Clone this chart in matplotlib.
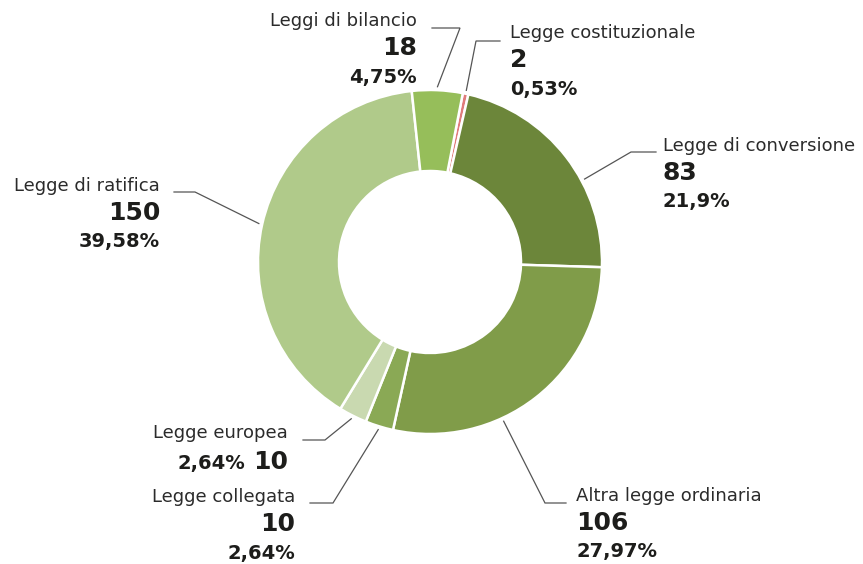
import numpy as np
import matplotlib.pyplot as plt

plt.rcParams['font.family'] = ['DejaVu Sans']

categorie = ["Legge costituzionale", "Legge di conversione", "Altra legge ordinaria",
             "Legge collegata", "Legge europea", "Legge di ratifica", "Leggi di bilancio"]
valori = [2, 83, 106, 10, 10, 150, 18]
percentuali = ["0,53%", "21,9%", "27,97%", "2,64%", "2,64%", "39,58%", "4,75%"]
colori = ["#e07b7b", "#6c863a", "#809c49", "#8aa955", "#c9d9b0", "#b0ca8a", "#96be5a"]

W, H = 863, 564
cx, cy = 430, H - 262
R = 172
spessore = 81

# posizione dei testi (x, y dall'alto), allineamento, gomito della linea, punto sulla fetta
etichette = {
    "Legge costituzionale": dict(x=510, y=33, ha="left", line=[(500, 41), (476, 41)], f=0.5),
    "Legge di conversione": dict(x=663, y=146, ha="left", line=[(656, 152), (631, 152)], f=0.38),
    "Altra legge ordinaria": dict(x=576, y=496, ha="left", line=[(566, 503), (545, 503)], f=0.37),
    "Legge collegata": dict(x=295, y=497, ha="right", line=[(310, 503), (333, 503)], f=0.5),
    "Legge europea": dict(x=288, y=433, ha="right", line=[(303, 440), (325, 440)], f=0.5),
    "Legge di ratifica": dict(x=160, y=186, ha="right", line=[(174, 192), (195, 192)], f=0.5),
    "Leggi di bilancio": dict(x=417, y=21, ha="right", line=[(432, 28), (460, 28)], f=0.5),
}

fig = plt.figure(figsize=(W / 100, H / 100), dpi=100)
ax = fig.add_axes([0, 0, 1, 1])

wedges, _ = ax.pie(valori, colors=colori, startangle=79, counterclock=False,
                   center=(cx, cy), radius=R,
                   wedgeprops=dict(width=spessore, edgecolor="white", linewidth=1.8))

ax.set_xlim(0, W)
ax.set_ylim(0, H)
ax.set_aspect("equal")
ax.axis("off")

scuro = "#1d1d1b"
for w, nome, val, pct in zip(wedges, categorie, valori, percentuali):
    e = etichette[nome]
    x, y = e["x"], H - e["y"]

    # linea di richiamo
    ang = np.deg2rad(w.theta1 + e["f"] * (w.theta2 - w.theta1))
    ex, ey = cx + 1.02 * R * np.cos(ang), cy + 1.02 * R * np.sin(ang)
    (x1, y1), (x2, y2) = e["line"]
    ax.plot([x1, x2, ex], [H - y1, H - y2, ey], color="#555555", lw=0.9,
            solid_joinstyle="miter")

    ax.text(x, y, nome, ha=e["ha"], va="center", fontsize=13, color="#2b2b2b")
    if nome == "Legge europea":
        ax.text(x, y - 29, str(val), ha="right", va="center", fontsize=18,
                fontweight="bold", color=scuro)
        ax.text(x - 43, y - 30, pct, ha="right", va="center", fontsize=14,
                fontweight="bold", color=scuro)
    else:
        ax.text(x, y - 27, str(val), ha=e["ha"], va="center", fontsize=18,
                fontweight="bold", color=scuro)
        ax.text(x, y - 56, pct, ha=e["ha"], va="center", fontsize=14,
                fontweight="bold", color=scuro)

fig.savefig("out.png", dpi=100, facecolor="white")
